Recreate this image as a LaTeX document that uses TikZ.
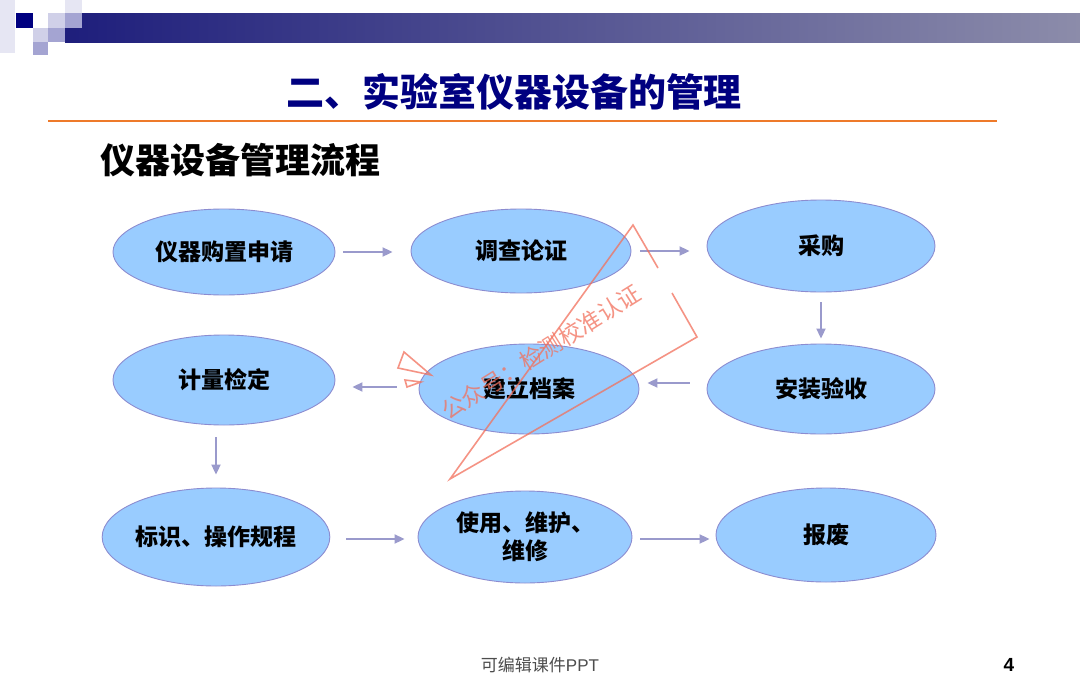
\documentclass[tikz,border=0pt]{standalone}
\usepackage{fontspec}
\setmainfont{Liberation Sans}
\newfontfamily\cjk{Noto Sans CJK SC}
\usetikzlibrary{shapes.geometric,arrows.meta}
\definecolor{barL}{HTML}{1E1E7C}
\definecolor{barR}{HTML}{8C8CAA}
\definecolor{sqNavy}{HTML}{000080}
\definecolor{sqPale}{HTML}{E6E6F3}
\definecolor{sqLight}{HTML}{D0D0E8}
\definecolor{sqMid}{HTML}{A4A4D2}
\definecolor{titlec}{HTML}{000080}
\definecolor{rulec}{HTML}{EE7A2A}
\definecolor{ellfill}{HTML}{99CCFF}
\definecolor{ellborder}{HTML}{8C8CD0}
\definecolor{arrowc}{HTML}{9A9ACC}
\definecolor{wmc}{HTML}{F2705C}
\definecolor{footc}{HTML}{4D4D4D}
\tikzset{
  proc/.style={ellipse, draw=ellborder, fill=ellfill, line width=0.9pt, inner sep=0pt,
    font=\cjk\bfseries\fontsize{23}{28}\selectfont, align=center},
  flow/.style={draw=arrowc, line width=2pt, -{Triangle[length=10pt,width=9pt]}},
  wmline/.style={draw=wmc, line width=1.6pt, draw opacity=0.75, line join=miter},
}
\begin{document}
\begin{tikzpicture}[x=1pt,y=-1pt]
\useasboundingbox (0,0) rectangle (1080,699);
\fill[white] (0,0) rectangle (1080,699);
% header decoration
\fill[sqPale] (0,0) rectangle (15,53);
\shade[left color=barL, right color=barR] (65,13) rectangle (1080,42);
\fill[sqPale] (65,0) rectangle (82,13);
\fill[sqMid] (65,13) rectangle (82,28);
\fill[sqNavy] (16,13) rectangle (33,28);
\fill[sqLight] (48,13) rectangle (65,28);
\fill[sqLight] (33,28) rectangle (48,42);
\fill[sqMid] (48,28) rectangle (65,42);
\fill[sqMid] (33,42) rectangle (48,55);
% title
\node[font=\cjk\bfseries\fontsize{38}{38}\selectfont, text=titlec] (title) at (514,92) {二、实验室仪器设备的管理};
\draw[rulec, line width=2.5pt] (48,121) -- (997,121);
\node[anchor=west, inner sep=0pt, font=\cjk\bfseries\fontsize{35}{35}\selectfont] (sub) at (100,160) {仪器设备管理流程};
% process nodes
\node[proc, minimum width=222pt, minimum height=86pt] (E1) at (224,252) {仪器购置申请};
\node[proc, minimum width=220pt, minimum height=84pt] (E2) at (521,251) {调查论证};
\node[proc, minimum width=228pt, minimum height=92pt] (E3) at (821,246) {采购};
\node[proc, minimum width=222pt, minimum height=90pt] (E4) at (224,380) {计量检定};
\node[proc, minimum width=220pt, minimum height=90pt] (E5) at (529,389) {建立档案};
\node[proc, minimum width=228pt, minimum height=90pt] (E6) at (821,389) {安装验收};
\node[proc, minimum width=222pt, minimum height=98pt] (E7) at (216,537) {标识、操作规程};
\node[proc, minimum width=214pt, minimum height=92pt] (E8) at (525,537) {使用、维护、\\维修};
\node[proc, minimum width=220pt, minimum height=94pt] (E9) at (826,535) {报废};
% connectors
\draw[flow, shorten <=8pt, shorten >=18pt] (E1.east) -- (E1.east -| E2.west);
\draw[flow, shorten <=9pt, shorten >=17pt] (E2.east) -- (E2.east -| E3.west);
\draw[flow, shorten <=10pt, shorten >=5pt] (E3.south -| E6) -- (E6.north);
\draw[flow, shorten <=17pt, shorten >=8pt] ([yshift=6pt]E6.west) -- ([yshift=6pt]E6.west -| E5.east);
\draw[flow, shorten <=22pt, shorten >=17pt] ([yshift=2pt]E5.west) -- ([yshift=2pt]E5.west -| E4.east);
\draw[flow, shorten <=12pt, shorten >=13pt] (E4.south -| E7) -- (E7.north);
\draw[flow, shorten <=16pt, shorten >=13pt] ([yshift=-2pt]E7.east) -- ([yshift=-2pt]E7.east -| E8.west);
\draw[flow, shorten <=8pt, shorten >=6pt] ([yshift=-2pt]E8.east) -- ([yshift=-2pt]E8.east -| E9.west);
% watermark
\draw[wmline] (658,268) -- (633,225) -- (450,479) -- (697,337) -- (672,293);
\draw[wmline] (404,352) -- (431,375) -- (398,368) -- cycle;
\draw[wmline] (405,380) -- (421,382) -- (407,387) -- cycle;
\node[rotate=32, text=wmc, text opacity=0.75, font=\cjk\fontsize{23}{23}\selectfont] (wm) at (541,352) {公众号：检测校准认证};
% footer
\node[text=footc, font=\fontsize{17}{17}\selectfont] (foot) at (540,665) {{\cjk 可编辑课件}PPT};
\node[font=\bfseries\fontsize{19}{19}\selectfont] (page) at (1009,665) {4};
\end{tikzpicture}
\end{document}
